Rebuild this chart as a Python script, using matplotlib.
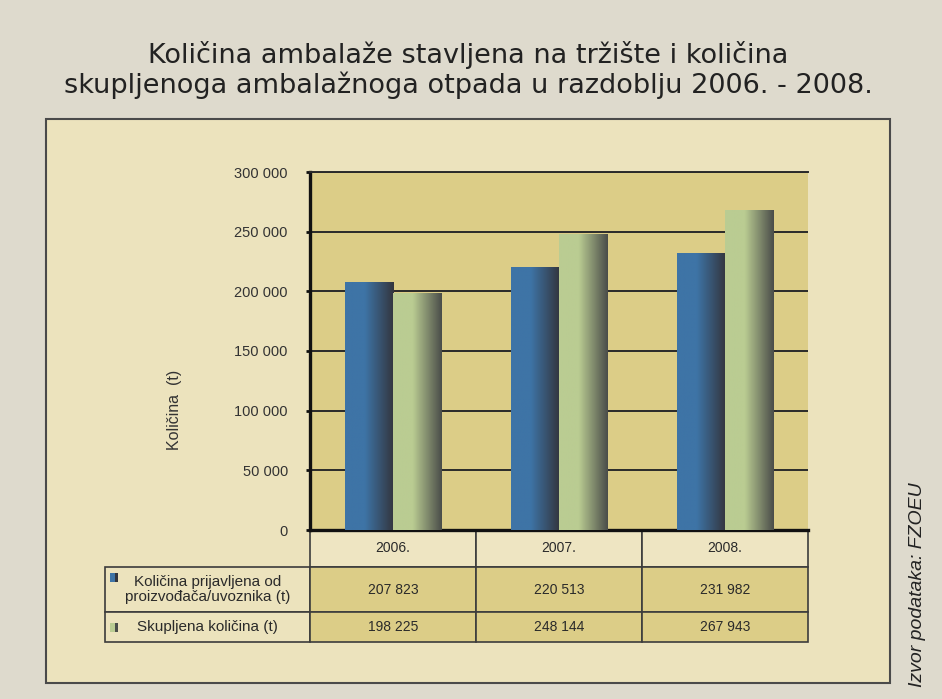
import matplotlib
matplotlib.use('Agg')
import matplotlib.pyplot as plt
from matplotlib.colors import LinearSegmentedColormap
from matplotlib.patches import Rectangle
from matplotlib.table import Table
from matplotlib.ticker import FuncFormatter
import numpy as np

# data
years = ['2006.', '2007.', '2008.']
prijavljeno = [207823, 220513, 231982]
skupljeno = [198225, 248144, 267943]
series_labels = ['Količina prijavljena od\nproizvođača/uvoznika (t)', 'Skupljena količina (t)']
title_lines = ['Količina ambalaže stavljena na tržište i količina',
               'skupljenoga ambalažnoga otpada u razdoblju 2006. - 2008.']
source = 'Izvor podataka: FZOEU'

W, H = 942, 699
small_font = 'Liberation Sans'

bg = '#dedacd'
box_col = '#ece3bd'
plot_col = '#dccd87'
blue, blue_dark = '#3e74a6', '#33363f'
green, green_dark = '#bacc92', '#4b4e4a'


def fx(px):
    return px / W


def fy(py):
    return 1 - py / H


fig = plt.figure(figsize=(W / 100, H / 100), dpi=100, facecolor=bg)

# outer cream box
fig.add_artist(Rectangle((fx(46), fy(683)), fx(890) - fx(46), fy(119) - fy(683),
                         transform=fig.transFigure, facecolor=box_col,
                         edgecolor='#4a4a4a', lw=1.5, zorder=0))

for line, py in zip(title_lines, [55, 85]):
    fig.text(fx(468), fy(py), line, ha='center', va='center', fontsize=19.5,
             color='#222222')

ax = fig.add_axes([fx(310), fy(530), fx(808) - fx(310), fy(172) - fy(530)])
ax.set_facecolor(plot_col)

x = np.arange(len(years))
w = 0.29
b1 = ax.bar(x - w / 2, prijavljeno, w, color=blue, zorder=2)
b2 = ax.bar(x + w / 2, skupljeno, w, color=green, zorder=2)

grad = np.linspace(0, 1, 64).reshape(1, -1)
for bars, c0, c1 in [(b1, blue, blue_dark), (b2, green, green_dark)]:
    cmap = LinearSegmentedColormap.from_list('g', [(0, c0), (0.4, c0), (1, c1)])
    for bar in bars:
        x0 = bar.get_x()
        im = ax.imshow(grad, cmap=cmap, aspect='auto', interpolation='bilinear',
                       extent=[x0, x0 + bar.get_width(), 0, bar.get_height()], zorder=3)
        im.set_clip_path(bar)

ax.set_xlim(-0.5, 2.5)
ax.set_ylim(0, 300000)
ax.set_yticks(np.arange(0, 300001, 50000))
ax.yaxis.set_major_formatter(FuncFormatter(lambda v, p: f'{int(v):,}'.replace(',', ' ')))
ax.set_xticks([])
ax.yaxis.grid(True, color='#2a2a2a', lw=1.4)
ax.set_axisbelow(True)
for s in ['left', 'bottom']:
    ax.spines[s].set_linewidth(2.4)
    ax.spines[s].set_color('#111111')
ax.spines['top'].set_linewidth(1.4)
ax.spines['top'].set_color('#2a2a2a')
ax.spines['right'].set_visible(False)
ax.tick_params(axis='y', length=3, width=2, color='#111111', pad=13,
               labelsize=10.5, labelcolor='#333333')
for t in ax.get_yticklabels():
    t.set_fontfamily(small_font)

fig.text(fx(174), fy(410), 'Količina  (t)', rotation=90, ha='center', va='center',
         fontsize=11.5, family=small_font, color='#333333')

# data table under the plot
tab = Table(ax, bbox=[(105 - 310) / 498, -(642 - 530) / 358, (808 - 105) / 498, (642 - 530) / 358])
tab.auto_set_font_size(False)
heights = [37, 45, 30]
for j, yr in enumerate(years):
    tab.add_cell(0, j + 1, 166, heights[0], text=yr, loc='center',
                 facecolor='#eee5c2', edgecolor='#3c3c3c')
rows = [prijavljeno, skupljeno]
for i, vals in enumerate(rows):
    c = tab.add_cell(i + 1, 0, 205, heights[i + 1], text=series_labels[i], loc='center',
                     facecolor=box_col, edgecolor='#3c3c3c')
    c.get_text().set_fontsize(11)
    for j, v in enumerate(vals):
        c = tab.add_cell(i + 1, j + 1, 166, heights[i + 1], text=f'{v:,}'.replace(',', ' '),
                         loc='center', facecolor=plot_col, edgecolor='#3c3c3c')
        c.get_text().set_fontsize(10)
for (r, col), cell in tab.get_celld().items():
    cell.set_linewidth(1.2)
    if r == 0:
        cell.get_text().set_fontsize(10)
    cell.get_text().set_fontfamily(small_font)
    cell.get_text().set_color('#2a2a2a')
    cell.get_text().set_linespacing(1.05)
ax.add_table(tab)

# legend keys in the table
for ytop, c0, c1 in [(573, blue, blue_dark), (623, green, green_dark)]:
    fig.add_artist(Rectangle((fx(110), fy(ytop + 9)), fx(5), fy(ytop) - fy(ytop + 9),
                             transform=fig.transFigure, facecolor=c0, lw=0, zorder=5))
    fig.add_artist(Rectangle((fx(115), fy(ytop + 9)), fx(3), fy(ytop) - fy(ytop + 9),
                             transform=fig.transFigure, facecolor=c1, lw=0, zorder=5))

fig.text(fx(918), fy(585), source, rotation=90, ha='center', va='center',
         fontsize=14, style='italic', family='Liberation Sans', color='#222222')

fig.savefig('out.png', dpi=100, facecolor=bg)
